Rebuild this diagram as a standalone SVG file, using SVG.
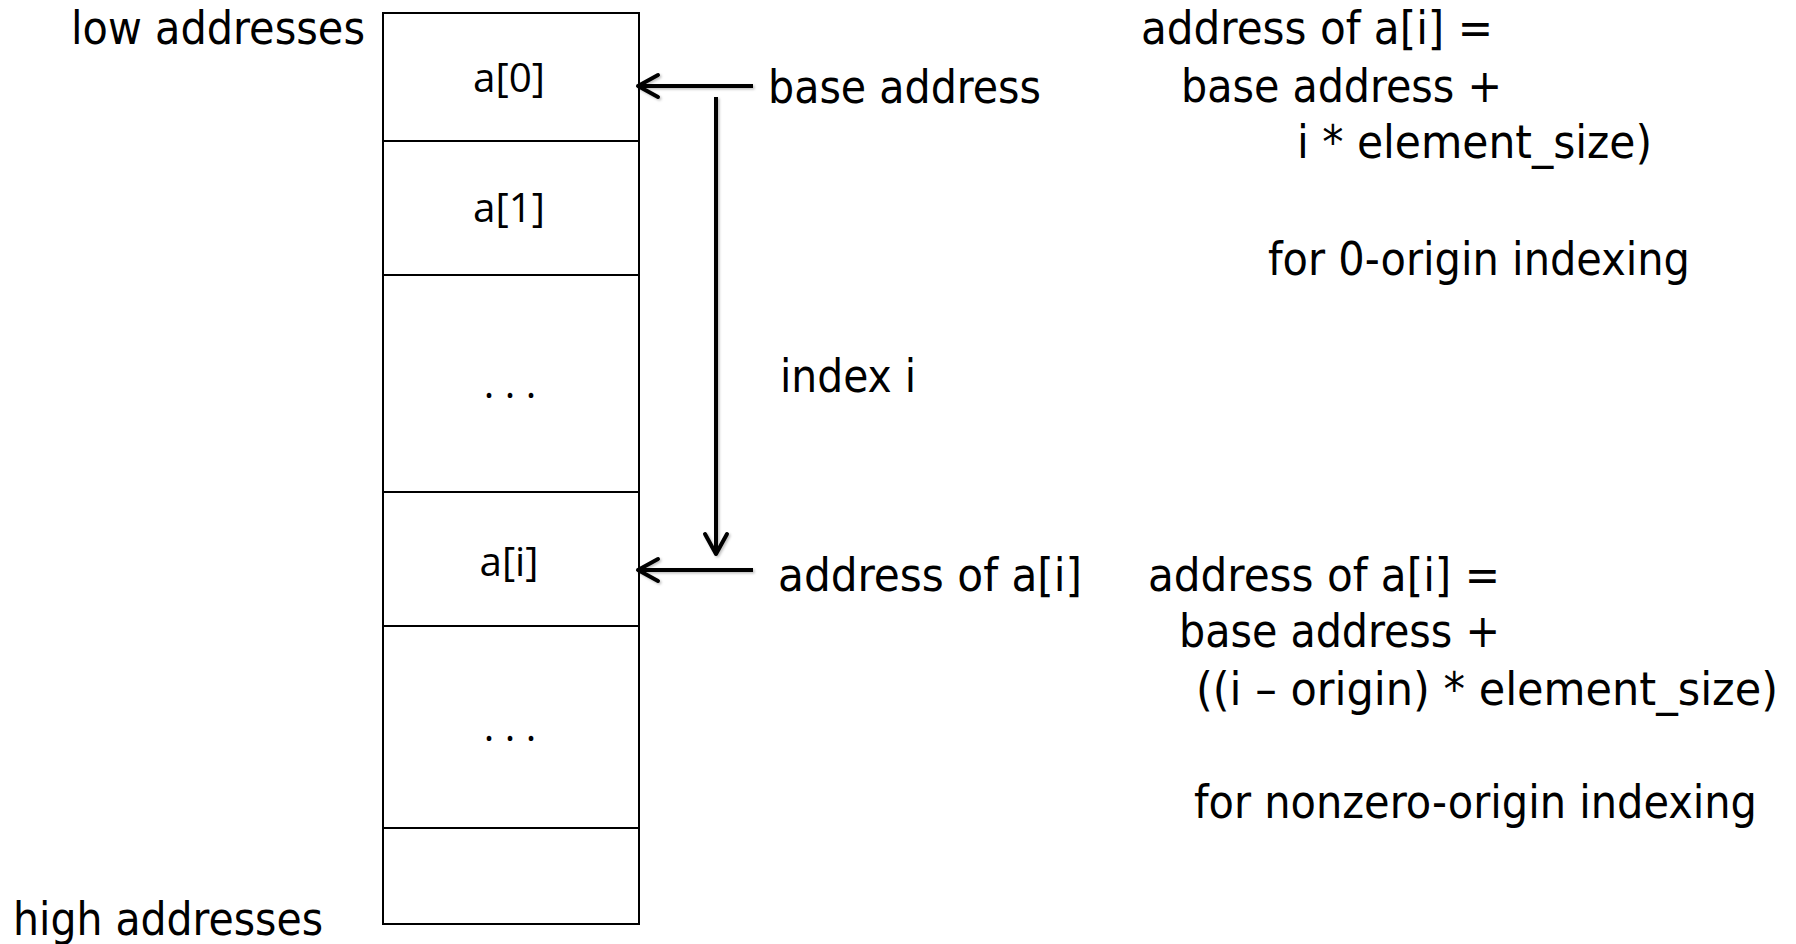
<svg xmlns="http://www.w3.org/2000/svg" width="1796" height="944" viewBox="0 0 1796 944">
  <style>
    .lbl { font-family: "DejaVu Sans Condensed", "DejaVu Sans", Verdana, sans-serif; font-stretch: condensed; font-size: 47px; fill: #000; }
    .cell-text { font-family: "Open Sans", "Noto Sans", sans-serif; font-size: 40px; fill: #000; text-anchor: middle; }
    .cell { fill: #fff; stroke: #000; stroke-width: 2; }
    .conn { fill: none; stroke: #000; stroke-width: 4; filter: url(#shadow); }
  </style>
  <defs>
    <marker id="chev" markerUnits="userSpaceOnUse" viewBox="-26 -15 30 30" markerWidth="30" markerHeight="30" refX="0" refY="0" orient="auto">
      <path d="M-20,-11 L0,0 L-20,11" fill="none" stroke="#000" stroke-width="4" stroke-linecap="round" stroke-linejoin="round"/>
    </marker>
    <filter id="shadow" filterUnits="userSpaceOnUse" x="0" y="0" width="1796" height="944">
      <feDropShadow dx="1.5" dy="1.5" stdDeviation="1.2" flood-color="#000" flood-opacity="0.25"/>
    </filter>
  </defs>
  <rect width="1796" height="944" fill="#fff"/>

  <g id="labels-side">
    <text class="lbl" x="71" y="44" textLength="294" lengthAdjust="spacingAndGlyphs">low addresses</text>
    <text class="lbl" x="13" y="935" textLength="310" lengthAdjust="spacingAndGlyphs">high addresses</text>
  </g>

  <g id="cell-a0">
    <rect class="cell" x="383" y="13" width="256" height="128"/>
    <text class="cell-text" x="509" y="92" textLength="72" lengthAdjust="spacingAndGlyphs">a[0]</text>
  </g>
  <g id="cell-a1">
    <rect class="cell" x="383" y="141" width="256" height="134"/>
    <text class="cell-text" x="509" y="222" textLength="72" lengthAdjust="spacingAndGlyphs">a[1]</text>
  </g>
  <g id="cell-dots1">
    <rect class="cell" x="383" y="275" width="256" height="217"/>
    <text class="cell-text" x="510" y="398">. . .</text>
  </g>
  <g id="cell-ai">
    <rect class="cell" x="383" y="492" width="256" height="134"/>
    <text class="cell-text" x="509" y="576" textLength="59" lengthAdjust="spacingAndGlyphs">a[i]</text>
  </g>
  <g id="cell-dots2">
    <rect class="cell" x="383" y="626" width="256" height="202"/>
    <text class="cell-text" x="510" y="741">. . .</text>
  </g>
  <g id="cell-last">
    <rect class="cell" x="383" y="828" width="256" height="96"/>
  </g>

  <g id="connectors">
    <line class="conn" x1="753" y1="86" x2="638" y2="86" marker-end="url(#chev)"/>
    <line class="conn" x1="716" y1="97" x2="716" y2="554" marker-end="url(#chev)"/>
    <line class="conn" x1="753" y1="570" x2="638" y2="570" marker-end="url(#chev)"/>
  </g>

  <g id="label-base">
    <text class="lbl" x="768" y="103" textLength="273" lengthAdjust="spacingAndGlyphs">base address</text>
  </g>
  <g id="label-index">
    <text class="lbl" x="780" y="392" textLength="136" lengthAdjust="spacingAndGlyphs">index i</text>
  </g>
  <g id="label-addr">
    <text class="lbl" x="778" y="591" textLength="304" lengthAdjust="spacingAndGlyphs">address of a[i]</text>
  </g>

  <g id="formula-zero">
    <text class="lbl" x="1141" y="44" textLength="352" lengthAdjust="spacingAndGlyphs">address of a[i] =</text>
    <text class="lbl" x="1181" y="102" textLength="321" lengthAdjust="spacingAndGlyphs">base address +</text>
    <text class="lbl" x="1297" y="158" textLength="355" lengthAdjust="spacingAndGlyphs">i * element_size)</text>
    <text class="lbl" x="1268" y="275" textLength="422" lengthAdjust="spacingAndGlyphs">for 0-origin indexing</text>
  </g>

  <g id="formula-nonzero">
    <text class="lbl" x="1148" y="591" textLength="352" lengthAdjust="spacingAndGlyphs">address of a[i] =</text>
    <text class="lbl" x="1179" y="647" textLength="321" lengthAdjust="spacingAndGlyphs">base address +</text>
    <text class="lbl" x="1196" y="705" textLength="582" lengthAdjust="spacingAndGlyphs">((i – origin) * element_size)</text>
    <text class="lbl" x="1194" y="818" textLength="563" lengthAdjust="spacingAndGlyphs">for nonzero-origin indexing</text>
  </g>
</svg>
